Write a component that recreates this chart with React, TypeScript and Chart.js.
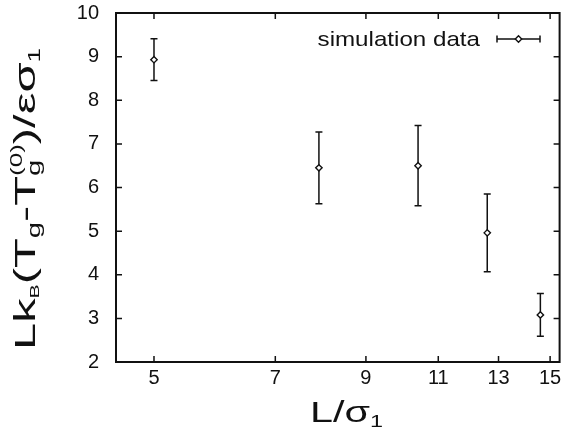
import React, { useEffect, useRef } from "react";
import { Chart, registerables } from "chart.js";

Chart.register(...registerables);

// ---- data ----
const lengths = [5, 7.9, 10.4, 12.6, 14.6];
const values = [8.93, 6.45, 6.5, 4.96, 3.08];
const errors = [0.48, 0.82, 0.92, 0.89, 0.49];
const xTickValues = [5, 7, 9, 11, 13, 15];
const yTickValues = [2, 3, 4, 5, 6, 7, 8, 9, 10];
const seriesLabel = "simulation data";

const FONT = '"Liberation Sans", Arial, Helvetica, sans-serif';
const INK = "#111111";

type Seg = { t: string; size: number; dy?: number; sup?: string; supSize?: number; supDy?: number };

function segWidth(ctx: CanvasRenderingContext2D, s: Seg) {
  ctx.font = `${s.size}px ${FONT}`;
  let w = ctx.measureText(s.t).width;
  if (s.sup) {
    ctx.font = `${s.supSize}px ${FONT}`;
    w = Math.max(w, ctx.measureText(s.sup).width);
  }
  return w;
}

function richWidth(ctx: CanvasRenderingContext2D, segs: Seg[]) {
  return segs.reduce((a, s) => a + segWidth(ctx, s), 0);
}

function drawRich(ctx: CanvasRenderingContext2D, segs: Seg[], scaleX: number) {
  ctx.save();
  ctx.scale(scaleX, 1);
  ctx.textBaseline = "alphabetic";
  ctx.textAlign = "left";
  ctx.fillStyle = INK;
  let cx = 0;
  for (const s of segs) {
    ctx.font = `${s.size}px ${FONT}`;
    ctx.fillText(s.t, cx, s.dy || 0);
    if (s.sup) {
      ctx.font = `${s.supSize}px ${FONT}`;
      ctx.fillText(s.sup, cx, s.supDy || 0);
    }
    cx += segWidth(ctx, s);
  }
  ctx.restore();
}

const yTitle: Seg[] = [
  { t: "Lk", size: 30 },
  { t: "B", size: 13, dy: 4 },
  { t: "(T", size: 30 },
  { t: "g", size: 18, dy: 5 },
  { t: "-T", size: 30 },
  { t: "g", size: 18, dy: 5, sup: "(0)", supSize: 16, supDy: -13 },
  { t: ")/εσ", size: 30 },
  { t: "1", size: 16, dy: 5 },
];

const xTitle: Seg[] = [
  { t: "L/σ", size: 30 },
  { t: "1", size: 17, dy: 5 },
];

function drawErrorBar(ctx: CanvasRenderingContext2D, x: number, y1: number, y2: number, cap: number) {
  ctx.beginPath();
  ctx.moveTo(x, y1);
  ctx.lineTo(x, y2);
  ctx.moveTo(x - cap, y1);
  ctx.lineTo(x + cap, y1);
  ctx.moveTo(x - cap, y2);
  ctx.lineTo(x + cap, y2);
  ctx.stroke();
}

function drawDiamond(ctx: CanvasRenderingContext2D, x: number, y: number, r: number) {
  ctx.beginPath();
  ctx.moveTo(x, y - r);
  ctx.lineTo(x + r, y);
  ctx.lineTo(x, y + r);
  ctx.lineTo(x - r, y);
  ctx.closePath();
  ctx.fillStyle = "#ffffff";
  ctx.fill();
  ctx.lineWidth = 1.4;
  ctx.strokeStyle = INK;
  ctx.stroke();
}

const decorPlugin = {
  id: "gnuplotDecor",
  beforeDatasetsDraw(chart: any) {
    const ctx: CanvasRenderingContext2D = chart.ctx;
    const xs = chart.scales.x;
    const ys = chart.scales.y;
    ctx.save();
    ctx.strokeStyle = INK;
    ctx.lineWidth = 1.5;
    lengths.forEach((L, i) => {
      const px = xs.getPixelForValue(L);
      const top = ys.getPixelForValue(values[i] + errors[i]);
      const bot = ys.getPixelForValue(values[i] - errors[i]);
      drawErrorBar(ctx, px, top, bot, 3.5);
    });
    ctx.restore();
  },
  afterDraw(chart: any) {
    const ctx: CanvasRenderingContext2D = chart.ctx;
    const { left, right, top, bottom } = chart.chartArea;
    const xs = chart.scales.x;
    const ys = chart.scales.y;
    ctx.save();
    ctx.strokeStyle = INK;
    ctx.lineWidth = 2;
    ctx.strokeRect(left, top, right - left, bottom - top);
    ctx.lineWidth = 1.5;
    const tl = 6;
    ctx.beginPath();
    xTickValues.forEach((v) => {
      const px = xs.getPixelForValue(v);
      ctx.moveTo(px, bottom);
      ctx.lineTo(px, bottom - tl);
      ctx.moveTo(px, top);
      ctx.lineTo(px, top + tl);
    });
    yTickValues.forEach((v) => {
      const py = ys.getPixelForValue(v);
      ctx.moveTo(left, py);
      ctx.lineTo(left + tl, py);
      ctx.moveTo(right, py);
      ctx.lineTo(right - tl, py);
    });
    ctx.stroke();

    // legend
    ctx.font = `21px ${FONT}`;
    const lw = ctx.measureText(seriesLabel).width;
    const lsx = 1.15;
    ctx.save();
    ctx.translate(480 - lw * lsx, 46);
    ctx.scale(lsx, 1);
    ctx.fillStyle = INK;
    ctx.textBaseline = "alphabetic";
    ctx.textAlign = "left";
    ctx.fillText(seriesLabel, 0, 0);
    ctx.restore();
    ctx.lineWidth = 1.5;
    ctx.strokeStyle = INK;
    ctx.beginPath();
    ctx.moveTo(497, 39);
    ctx.lineTo(540, 39);
    ctx.moveTo(497, 35.5);
    ctx.lineTo(497, 42.5);
    ctx.moveTo(540, 35.5);
    ctx.lineTo(540, 42.5);
    ctx.stroke();
    drawDiamond(ctx, 518.5, 39, 3.2);

    // y title (rotated)
    ctx.save();
    ctx.translate(35, 350);
    ctx.rotate(-Math.PI / 2);
    const yw = richWidth(ctx, yTitle);
    drawRich(ctx, yTitle, 302 / yw);
    ctx.restore();

    // x title
    ctx.save();
    ctx.translate(310, 422);
    const xw = richWidth(ctx, xTitle);
    drawRich(ctx, xTitle, 73 / xw);
    ctx.restore();
    ctx.restore();
  },
};

export default function App() {
  const ref = useRef<HTMLCanvasElement | null>(null);
  useEffect(() => {
    document.body.style.margin = "0";
    const canvas = ref.current!;
    const chart = new Chart(canvas, {
      type: "scatter",
      data: {
        datasets: [
          {
            label: seriesLabel,
            data: lengths.map((L, i) => ({ x: L, y: values[i] })),
            pointStyle: "rectRot",
            pointRadius: 3.2,
            pointBorderWidth: 1.4,
            pointBackgroundColor: "#ffffff",
            pointBorderColor: INK,
            showLine: false,
          },
        ],
      },
      options: {
        responsive: false,
        animation: false,
        devicePixelRatio: 1,
        layout: { padding: { top: 13, right: 3, left: 0, bottom: 0 } },
        plugins: { legend: { display: false }, tooltip: { enabled: false } },
        scales: {
          x: {
            type: "logarithmic",
            min: 4.5,
            max: 15.4,
            grid: { display: false, drawTicks: false },
            border: { display: false },
            afterBuildTicks: (s: any) => {
              s.ticks = xTickValues.map((v) => ({ value: v }));
            },
            afterFit: (s: any) => {
              s.height = 75;
              s.paddingLeft = 0;
              s.paddingRight = 0;
              s.paddingTop = 0;
              s.paddingBottom = 0;
            },
            ticks: {
              autoSkip: false,
              maxRotation: 0,
              padding: 4,
              color: INK,
              font: { family: FONT, size: 20 },
              callback: (v: any) => String(v),
            },
          },
          y: {
            type: "linear",
            min: 2,
            max: 10,
            grid: { display: false, drawTicks: false },
            border: { display: false },
            afterBuildTicks: (s: any) => {
              s.ticks = yTickValues.map((v) => ({ value: v }));
            },
            afterFit: (s: any) => {
              s.width = 116;
              s.paddingLeft = 0;
              s.paddingRight = 0;
              s.paddingTop = 0;
              s.paddingBottom = 0;
            },
            ticks: {
              padding: 17,
              color: INK,
              font: { family: FONT, size: 20 },
              callback: (v: any) => String(v),
            },
          },
        },
      },
      plugins: [decorPlugin],
    });
    return () => chart.destroy();
  }, []);
  return (
    <div style={{ position: "absolute", left: 0, top: 0, width: 565, height: 437, background: "#fff" }}>
      <canvas ref={ref} width={565} height={437} style={{ display: "block" }} />
    </div>
  );
}
